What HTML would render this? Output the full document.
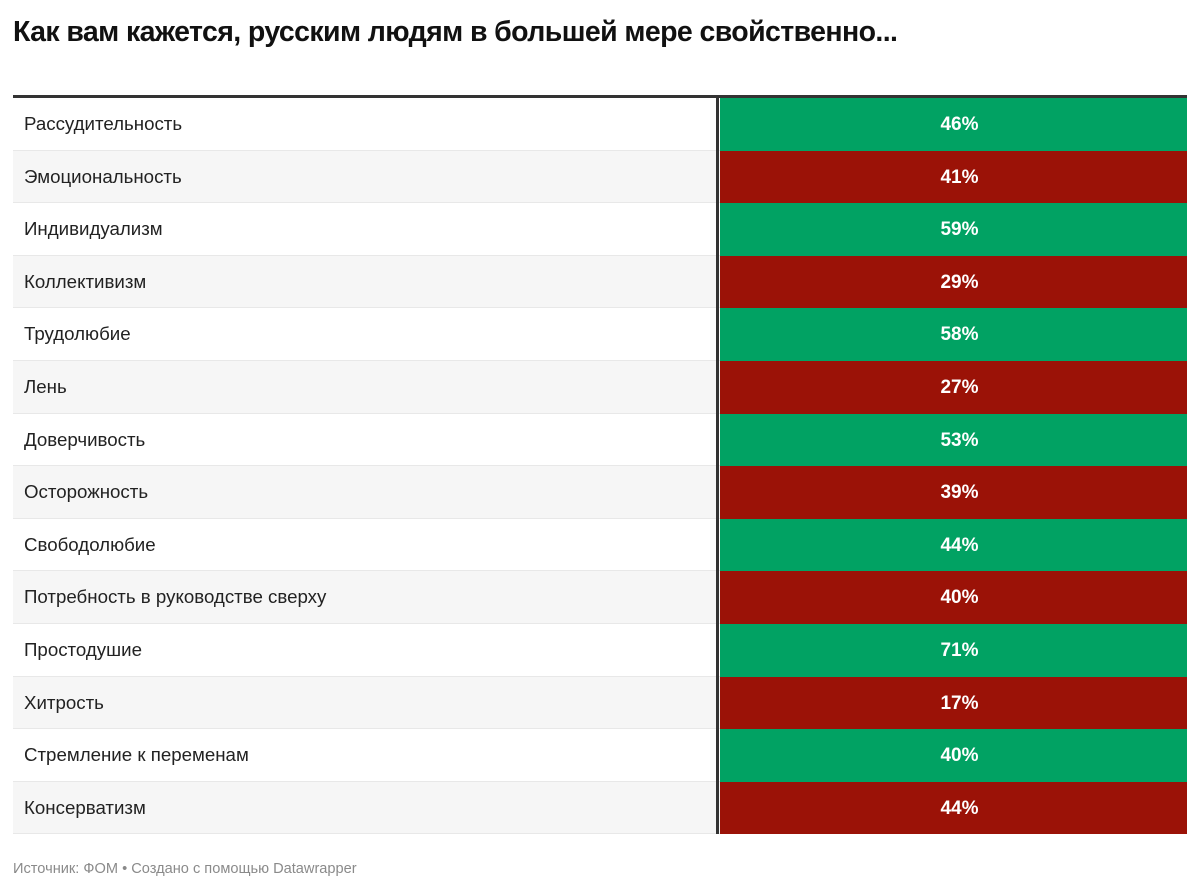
<!DOCTYPE html>
<html><head><meta charset="utf-8"><style>
body{margin:0;width:1200px;height:891px;background:#fff;font-family:"Liberation Sans",sans-serif;overflow:hidden;position:relative}
#title{position:absolute;left:13px;top:16px;font-size:28.5px;font-weight:bold;color:#111;letter-spacing:-0.6px}
#table{position:absolute;left:13px;top:95px;width:1174px;border-top:3px solid #333}
.row{position:absolute;left:0;width:1174px;box-sizing:border-box;border-bottom:1px solid #e8e8e8}
.lab{position:absolute;left:11px;top:0;font-size:18.7px;color:#222}
.val{position:absolute;left:707px;width:467px;box-sizing:border-box;padding-left:12px;padding-top:2px;top:0;color:#fff;font-weight:bold;font-size:19px;text-align:center}
#vline{position:absolute;left:703px;top:0;width:3px;background:#333;z-index:5}
#foot{position:absolute;left:13px;top:861px;font-size:14.6px;color:#8a8a8a}
</style></head><body>
<div id="title">Как вам кажется, русским людям в большей мере свойственно...</div>
<div id="table"><div id="vline"></div></div>
<div id="foot">Источник: ФОМ • Создано с помощью Datawrapper</div>
<script>
const categories=["Рассудительность","Эмоциональность","Индивидуализм","Коллективизм","Трудолюбие","Лень","Доверчивость","Осторожность","Свободолюбие","Потребность в руководстве сверху","Простодушие","Хитрость","Стремление к переменам","Консерватизм"];
const values=[46,41,59,29,58,27,53,39,44,40,71,17,40,44];
const kinds=["pos","neg","pos","neg","pos","neg","pos","neg","pos","neg","pos","neg","pos","neg"];
const t=document.getElementById('table');
const rowH=52.6;
categories.forEach((c,i)=>{
  const r=document.createElement('div');
  
  
  r.className='row';
  r.style.top=(i*rowH)+'px';r.style.height=rowH+'px';
  r.style.background=i%2?'#f6f6f6':'#fff';
  const l=document.createElement('div');
  
  
  l.className='lab';l.textContent=c;l.style.lineHeight=rowH+'px';
  const v=document.createElement('div');
  
  
  v.className='val';v.textContent=values[i]+'%';
  v.style.height=rowH+'px';v.style.lineHeight=(rowH-2)+'px';
  v.style.background=kinds[i]==='pos'?'#01a263':'#9b1207';
  r.appendChild(l);r.appendChild(v);t.appendChild(r);
});
document.getElementById('vline').style.height=(categories.length*rowH)+'px';
t.style.height=(categories.length*rowH)+'px';
</script>
</body></html>
